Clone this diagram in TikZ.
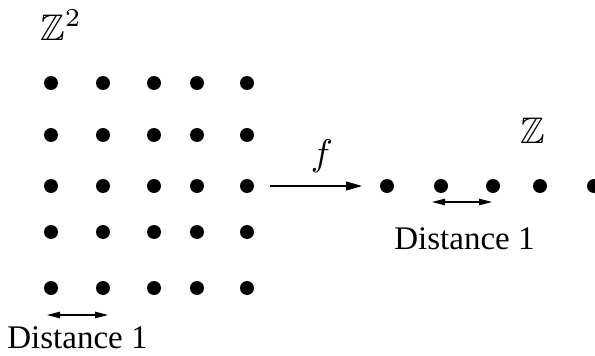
\documentclass[tikz,border=0pt]{standalone}
\usepackage{amssymb}
\usepackage{fontspec}
\setmainfont{Liberation Serif}
\usetikzlibrary{arrows.meta}
\begin{document}
\begin{tikzpicture}[x=1pt,y=-1pt,
  dotfill/.style={fill=black},
  lbl/.style={inner sep=0pt,font=\fontsize{33}{36}\selectfont},
  mlbl/.style={inner sep=0pt,scale=3.7},
  maparrow/.style={line width=1.1pt,-{Triangle[length=16pt,width=9pt]}},
  distarrow/.style={line width=1.1pt,{Triangle[length=13pt,width=6.5pt]}-{Triangle[length=13pt,width=6.5pt]}}]
\useasboundingbox (0,0) rectangle (595,356);
% grid Z^2
\foreach \x [count=\i] in {51,103,154,197,247}{
  \foreach \y [count=\j] in {83,135,186,232,288}{
    \coordinate (g\i\j) at (\x,\y);
    \fill[dotfill] (g\i\j) circle[radius=7pt];
  }
}
% Z line
\foreach \x [count=\i] in {387,441,493,540,594}{
  \coordinate (z\i) at (\x,186);
  \fill[dotfill] (z\i) circle[radius=7pt];
}
\node[mlbl] (zz2) at (61,25) {$\mathbb{Z}^2$};
\node[mlbl] (zz) at (533,131) {$\mathbb{Z}$};
% map arrow
\coordinate (fa) at (270,186);
\coordinate (fb) at (362,186);
\draw[maparrow] (fa) -- (fb);
\node[mlbl] (f) at (322,156) {$f$};
% distances
\coordinate (la) at (47,315);
\coordinate (lb) at (108,315);
\draw[distarrow] (la) -- (lb);
\node[lbl,anchor=base] (dl) at (77.5,348) {Distance 1};
\coordinate (ra) at (432,202);
\coordinate (rb) at (492,202);
\draw[distarrow] (ra) -- (rb);
\node[lbl,anchor=base] (dr) at (464.5,249) {Distance 1};
\end{tikzpicture}
\end{document}
